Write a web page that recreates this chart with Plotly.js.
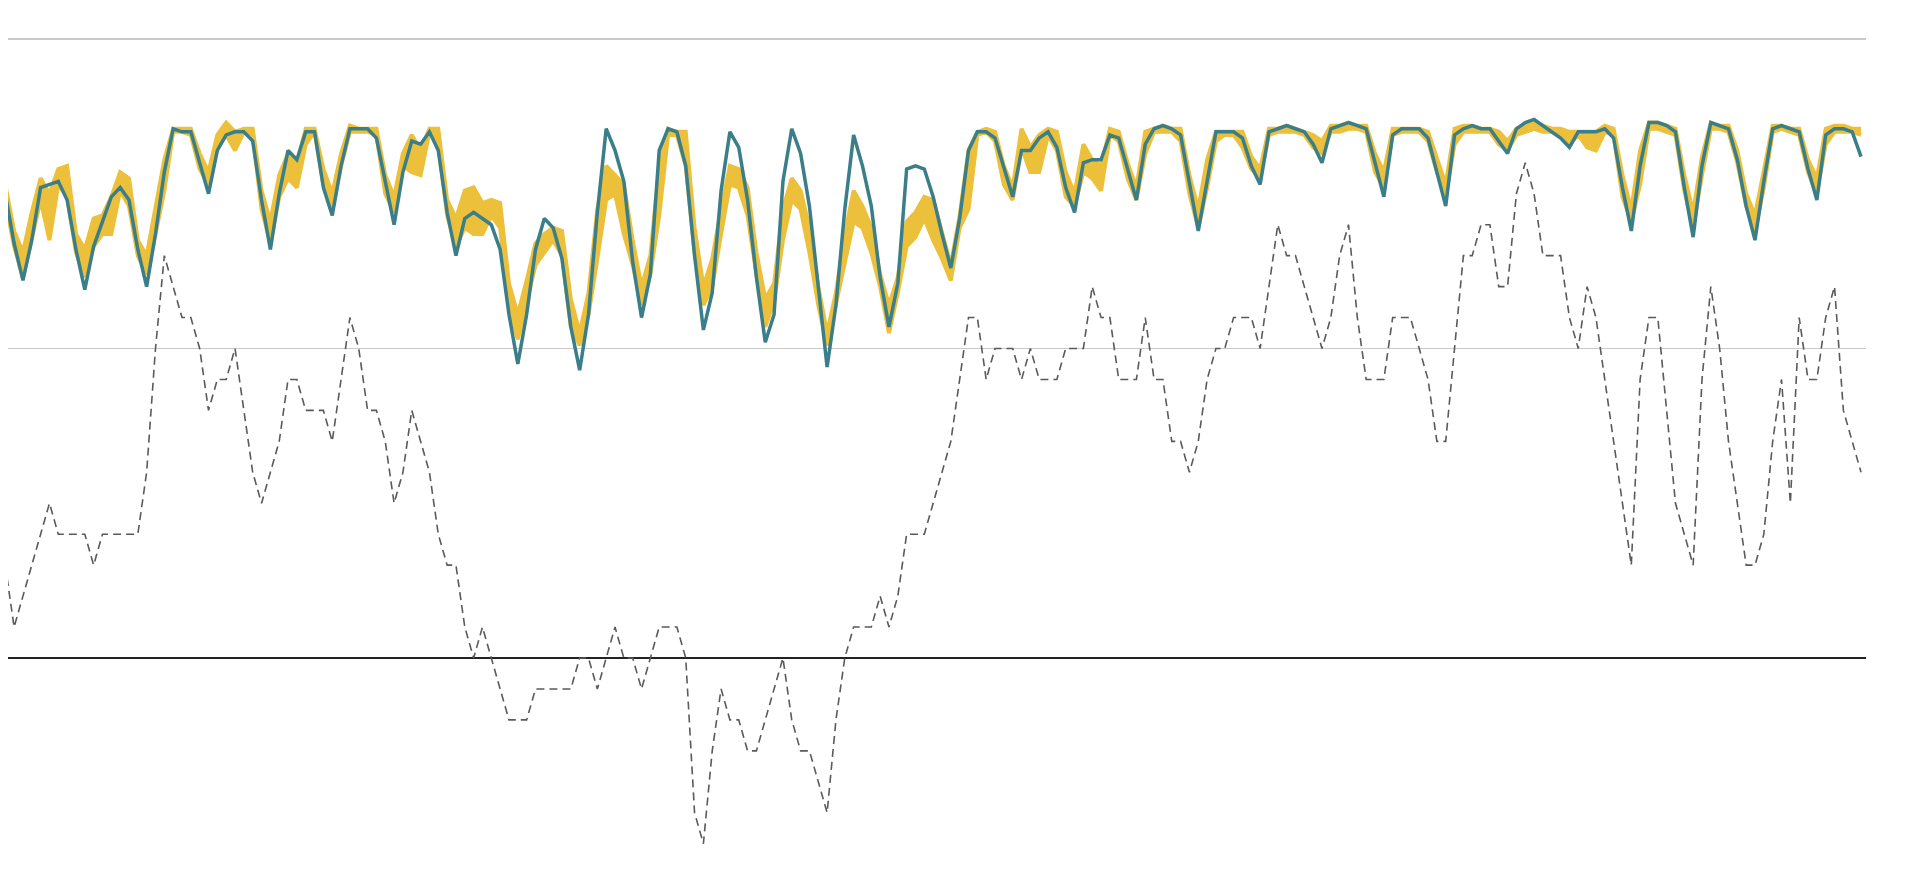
<!DOCTYPE html>
<html>
<head>
<meta charset="utf-8">
<script src="https://cdn.plot.ly/plotly-3.0.1.min.js"></script>
<style>
  html, body { margin: 0; padding: 0; background: #ffffff; }
  #chart { width: 1925px; height: 881px; }
</style>
</head>
<body>
<div id="chart"></div>
<script>
// Measured series (teal line)
const actual = [
  15.0,13.4,12.2,13.5,15.2,15.3,15.4,14.8,13.2,11.9,
  13.3,14.1,14.9,15.2,14.8,13.2,12.0,13.7,15.7,17.1,
  17.0,17.0,16.0,15.0,16.4,16.9,17.0,17.0,16.7,14.8,
  13.2,15.0,16.4,16.1,17.0,17.0,15.2,14.3,15.9,17.1,
  17.1,17.1,16.8,15.4,14.0,15.7,16.7,16.6,17.0,16.4,
  14.4,13.0,14.2,14.4,14.2,14.0,13.2,11.1,9.5,11.1,
  13.2,14.2,13.9,12.9,10.7,9.3,11.1,14.4,17.1,16.4,
  15.4,12.8,11.0,12.4,16.4,17.1,17.0,15.9,13.0,10.6,
  11.8,15.1,17.0,16.5,14.8,12.3,10.2,11.1,15.4,17.1,
  16.3,14.6,12.0,9.4,11.4,14.5,16.9,15.9,14.6,12.3,
  10.7,12.1,15.8,15.9,15.8,14.9,13.7,12.6,14.2,16.4,
  17.0,17.0,16.8,15.8,14.9,16.4,16.4,16.8,17.0,16.5,
  15.2,14.4,16.0,16.1,16.1,16.9,16.8,15.8,14.8,16.6,
  17.1,17.2,17.1,16.9,15.3,13.8,15.4,17.0,17.0,17.0,
  16.8,15.9,15.3,17.0,17.1,17.2,17.1,17.0,16.6,16.0,
  17.1,17.2,17.3,17.2,17.1,16.0,14.9,16.9,17.1,17.1,
  17.1,16.8,15.7,14.6,16.9,17.1,17.2,17.1,17.1,16.7,
  16.3,17.1,17.3,17.4,17.2,17.0,16.8,16.5,17.0,17.0,
  17.0,17.1,16.8,15.2,13.8,15.9,17.3,17.3,17.2,17.0,
  15.2,13.6,15.9,17.3,17.2,17.1,16.1,14.6,13.5,15.4,
  17.1,17.2,17.1,17.0,15.8,14.8,16.9,17.1,17.1,17.0,
  16.2
];

// Expected range, upper bound (yellow band)
const rangeHigh = [
  15.3,13.8,13.1,14.4,15.5,15.0,15.8,15.9,13.7,13.2,
  14.2,14.3,14.9,15.7,15.5,13.5,13.0,14.5,16.1,17.1,
  17.1,17.1,16.3,15.7,16.9,17.3,17.0,17.1,17.1,15.1,
  14.1,15.6,16.3,16.0,17.1,17.1,15.8,15.0,16.3,17.2,
  17.1,17.1,17.1,15.6,14.9,16.3,16.9,16.4,17.1,17.1,
  14.8,14.2,15.1,15.2,14.7,14.8,14.7,12.1,11.1,12.2,
  13.4,13.7,13.9,13.8,11.6,10.5,11.8,14.5,15.9,15.6,
  15.3,13.5,12.0,13.0,15.9,17.1,17.0,17.0,13.9,12.0,
  12.9,14.5,15.9,15.8,15.2,13.1,11.6,12.1,14.5,15.5,
  15.1,13.9,12.0,10.5,11.8,13.7,15.1,14.6,13.9,12.4,
  11.4,12.3,14.1,14.4,14.9,14.8,13.7,12.7,14.3,16.4,
  17.0,17.1,17.0,15.9,15.2,17.1,16.5,16.9,17.1,17.0,
  15.7,15.0,16.6,16.1,15.9,17.1,17.0,16.0,15.2,17.0,
  17.1,17.2,17.1,17.1,15.6,14.5,16.1,17.0,17.0,17.0,
  17.0,16.2,15.8,17.1,17.1,17.2,17.1,17.0,16.9,16.7,
  17.2,17.2,17.3,17.2,17.2,16.3,15.7,17.1,17.1,17.1,
  17.1,17.0,16.1,15.3,17.1,17.2,17.2,17.1,17.1,17.0,
  16.7,17.1,17.2,17.3,17.2,17.1,17.1,17.0,17.0,17.0,
  17.0,17.2,17.1,15.6,14.5,16.4,17.3,17.3,17.2,17.1,
  15.6,14.4,16.2,17.3,17.2,17.2,16.4,15.0,14.3,15.8,
  17.2,17.2,17.1,17.1,16.1,15.5,17.1,17.2,17.2,17.1,
  17.1
];

// Expected range, lower bound (yellow band)
const rangeLow = [
  14.8,13.3,12.3,13.5,14.8,13.5,15.3,14.9,13.1,12.3,
  13.3,13.7,13.7,15.1,14.6,13.0,12.4,13.7,15.1,17.0,
  17.0,16.9,15.8,15.3,16.5,16.9,16.4,17.0,16.9,14.5,
  13.4,14.9,15.5,15.2,16.6,17.0,15.3,14.5,15.9,17.0,
  17.0,17.0,16.9,15.0,14.4,15.9,15.7,15.6,17.0,16.6,
  14.3,13.3,13.9,13.7,13.7,14.3,13.9,11.4,10.3,11.5,
  12.7,13.1,13.5,13.0,10.7,10.1,11.1,12.9,14.8,15.0,
  13.7,12.7,11.4,12.4,14.3,16.9,16.9,15.9,13.1,11.4,
  12.0,13.7,15.3,15.2,14.3,12.4,10.7,11.5,13.5,14.8,
  14.5,13.1,11.4,10.1,11.4,12.7,14.1,13.9,13.1,12.0,
  10.5,11.8,13.3,13.6,14.2,13.5,12.9,12.2,13.9,14.5,
  16.9,17.0,16.7,15.3,14.8,16.5,15.7,15.7,16.9,16.4,
  14.9,14.6,15.7,15.5,15.1,16.9,16.7,15.5,14.8,16.3,
  17.0,17.0,17.0,16.7,15.0,13.9,15.2,16.7,16.9,16.9,
  16.5,15.8,15.5,16.9,17.0,17.0,17.0,16.9,16.5,16.3,
  17.0,17.0,17.1,17.1,17.0,15.7,15.2,16.9,17.0,17.0,
  17.0,16.7,15.7,14.9,16.6,17.0,17.0,17.0,17.0,16.6,
  16.4,16.9,17.0,17.1,17.0,17.0,16.9,16.6,16.9,16.5,
  16.4,17.0,16.9,14.9,14.1,15.3,17.1,17.1,17.0,16.9,
  15.1,13.9,15.6,17.1,17.1,17.0,16.0,14.6,13.8,15.2,
  17.0,17.1,17.0,16.9,15.7,15.0,16.6,17.0,17.0,17.0,
  16.9
];

// Dashed grey series (integer steps)
const dashed = [
  3,1,2,3,4,5,4,4,4,4,
  3,4,4,4,4,4,6,10,13,12,
  11,11,10,8,9,9,10,8,6,5,
  6,7,9,9,8,8,8,7,9,11,
  10,8,8,7,5,6,8,7,6,4,
  3,3,1,0,1,0,-1,-2,-2,-2,
  -1,-1,-1,-1,-1,0,0,-1,0,1,
  0,0,-1,0,1,1,1,0,-5,-6,
  -3,-1,-2,-2,-3,-3,-2,-1,0,-2,
  -3,-3,-4,-5,-2,0,1,1,1,2,
  1,2,4,4,4,5,6,7,9,11,
  11,9,10,10,10,9,10,9,9,9,
  10,10,10,12,11,11,9,9,9,11,
  9,9,7,7,6,7,9,10,10,11,
  11,11,10,12,14,13,13,12,11,10,
  11,13,14,11,9,9,9,11,11,11,
  10,9,7,7,10,13,13,14,14,12,
  12,15,16,15,13,13,13,11,10,12,
  11,9,7,5,3,9,11,11,8,5,
  4,3,9,12,10,7,5,3,3,4,
  7,9,5,11,9,9,11,12,8,7,
  6
];

const gridValues = [0, 10, 20];

const days = actual.map((_, i) => i);

const YELLOW = 'rgb(236,192,58)';
const TEAL = 'rgb(58,126,138)';

const traces = [
  {
    x: days, y: dashed, type: 'scatter', mode: 'lines',
    line: { color: '#5a5a5a', width: 1.6, dash: '8px,5px' },
    hoverinfo: 'skip', showlegend: false
  },
  {
    x: days, y: rangeLow, type: 'scatter', mode: 'lines',
    line: { color: YELLOW, width: 4 },
    hoverinfo: 'skip', showlegend: false
  },
  {
    x: days, y: rangeHigh, type: 'scatter', mode: 'lines',
    line: { color: YELLOW, width: 4 },
    fill: 'tonexty', fillcolor: YELLOW,
    hoverinfo: 'skip', showlegend: false
  },
  {
    x: days, y: actual, type: 'scatter', mode: 'lines',
    line: { color: TEAL, width: 3.5 },
    hoverinfo: 'skip', showlegend: false
  }
];

const layout = {
  width: 1925, height: 881,
  margin: { l: 8, r: 59, t: 0, b: 0, pad: 0 },
  paper_bgcolor: '#ffffff', plot_bgcolor: '#ffffff',
  showlegend: false,
  xaxis: {
    range: [0.31, 210.56],
    showgrid: false, zeroline: false, showticklabels: false,
    ticks: '', showline: false, fixedrange: true
  },
  yaxis: {
    range: [-7.205, 21.26],
    tickvals: gridValues,
    showticklabels: false, ticks: '',
    showgrid: true, gridcolor: '#c9c9c9', gridwidth: 1.5,
    zeroline: true, zerolinecolor: '#222222', zerolinewidth: 2,
    showline: false, fixedrange: true
  }
};

Plotly.newPlot('chart', traces, layout, { displayModeBar: false, staticPlot: true });
</script>
</body>
</html>
